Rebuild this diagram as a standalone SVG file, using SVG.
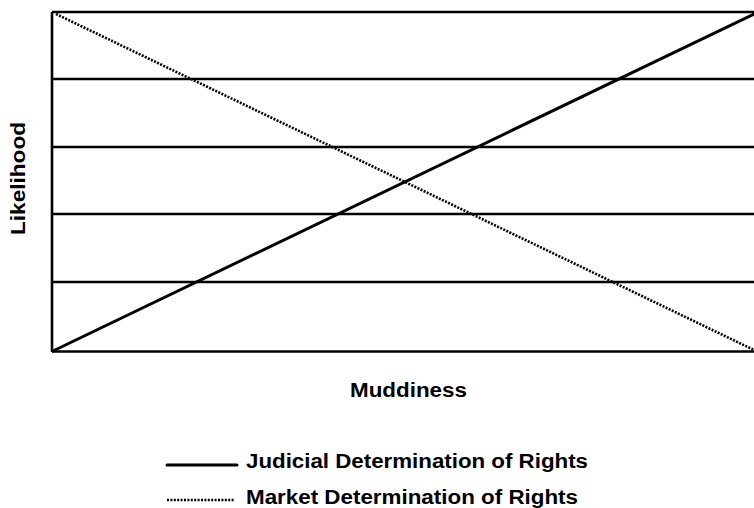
<svg xmlns="http://www.w3.org/2000/svg" width="754" height="508" viewBox="0 0 754 508">
<style>
.frame{stroke:#000;stroke-width:2.6;fill:none}
.grid{stroke:#000;stroke-width:2.6;fill:none}
.judicial{stroke:#000;stroke-width:3;fill:none;stroke-linecap:round}
.market{stroke:#000;stroke-width:2.6;fill:none;stroke-dasharray:2 1.4}
.lbl{font-family:"Liberation Sans",Arial,sans-serif;font-weight:bold;fill:#000}
</style>
<rect width="754" height="508" fill="#fff"/>
<g id="plot-frame">
<line class="frame" x1="52" y1="12" x2="52" y2="352"/>
<line class="frame" x1="52" y1="12" x2="754" y2="12"/>
<line class="frame" x1="52" y1="351.5" x2="754" y2="351.5"/>
</g>
<g id="gridlines">
<line class="grid" x1="52" y1="79" x2="754" y2="79"/>
<line class="grid" x1="52" y1="147" x2="754" y2="147"/>
<line class="grid" x1="52" y1="214" x2="754" y2="214"/>
<line class="grid" x1="52" y1="282" x2="754" y2="282"/>
</g>
<g id="connectors">
<line id="judicial-line" class="judicial" x1="53" y1="351" x2="754" y2="14"/>
<line id="market-line" class="market" x1="56" y1="14" x2="754" y2="350"/>
</g>
<g id="axis-y-label">
<text class="lbl" font-size="20.5" transform="translate(25,235) rotate(-90)" textLength="113" lengthAdjust="spacingAndGlyphs">Likelihood</text>
</g>
<g id="axis-x-label">
<text class="lbl" font-size="19.5" x="350" y="397" textLength="117" lengthAdjust="spacingAndGlyphs">Muddiness</text>
</g>
<g id="legend-judicial">
<line class="judicial" x1="167" y1="465" x2="237" y2="465" stroke-linecap="butt"/>
<text class="lbl" font-size="20" x="246" y="468" textLength="342" lengthAdjust="spacingAndGlyphs">Judicial Determination of Rights</text>
</g>
<g id="legend-market">
<line class="market" x1="167" y1="500" x2="234" y2="500" stroke-width="2"/>
<text class="lbl" font-size="20" x="246" y="504" textLength="332" lengthAdjust="spacingAndGlyphs">Market Determination of Rights</text>
</g>
</svg>
